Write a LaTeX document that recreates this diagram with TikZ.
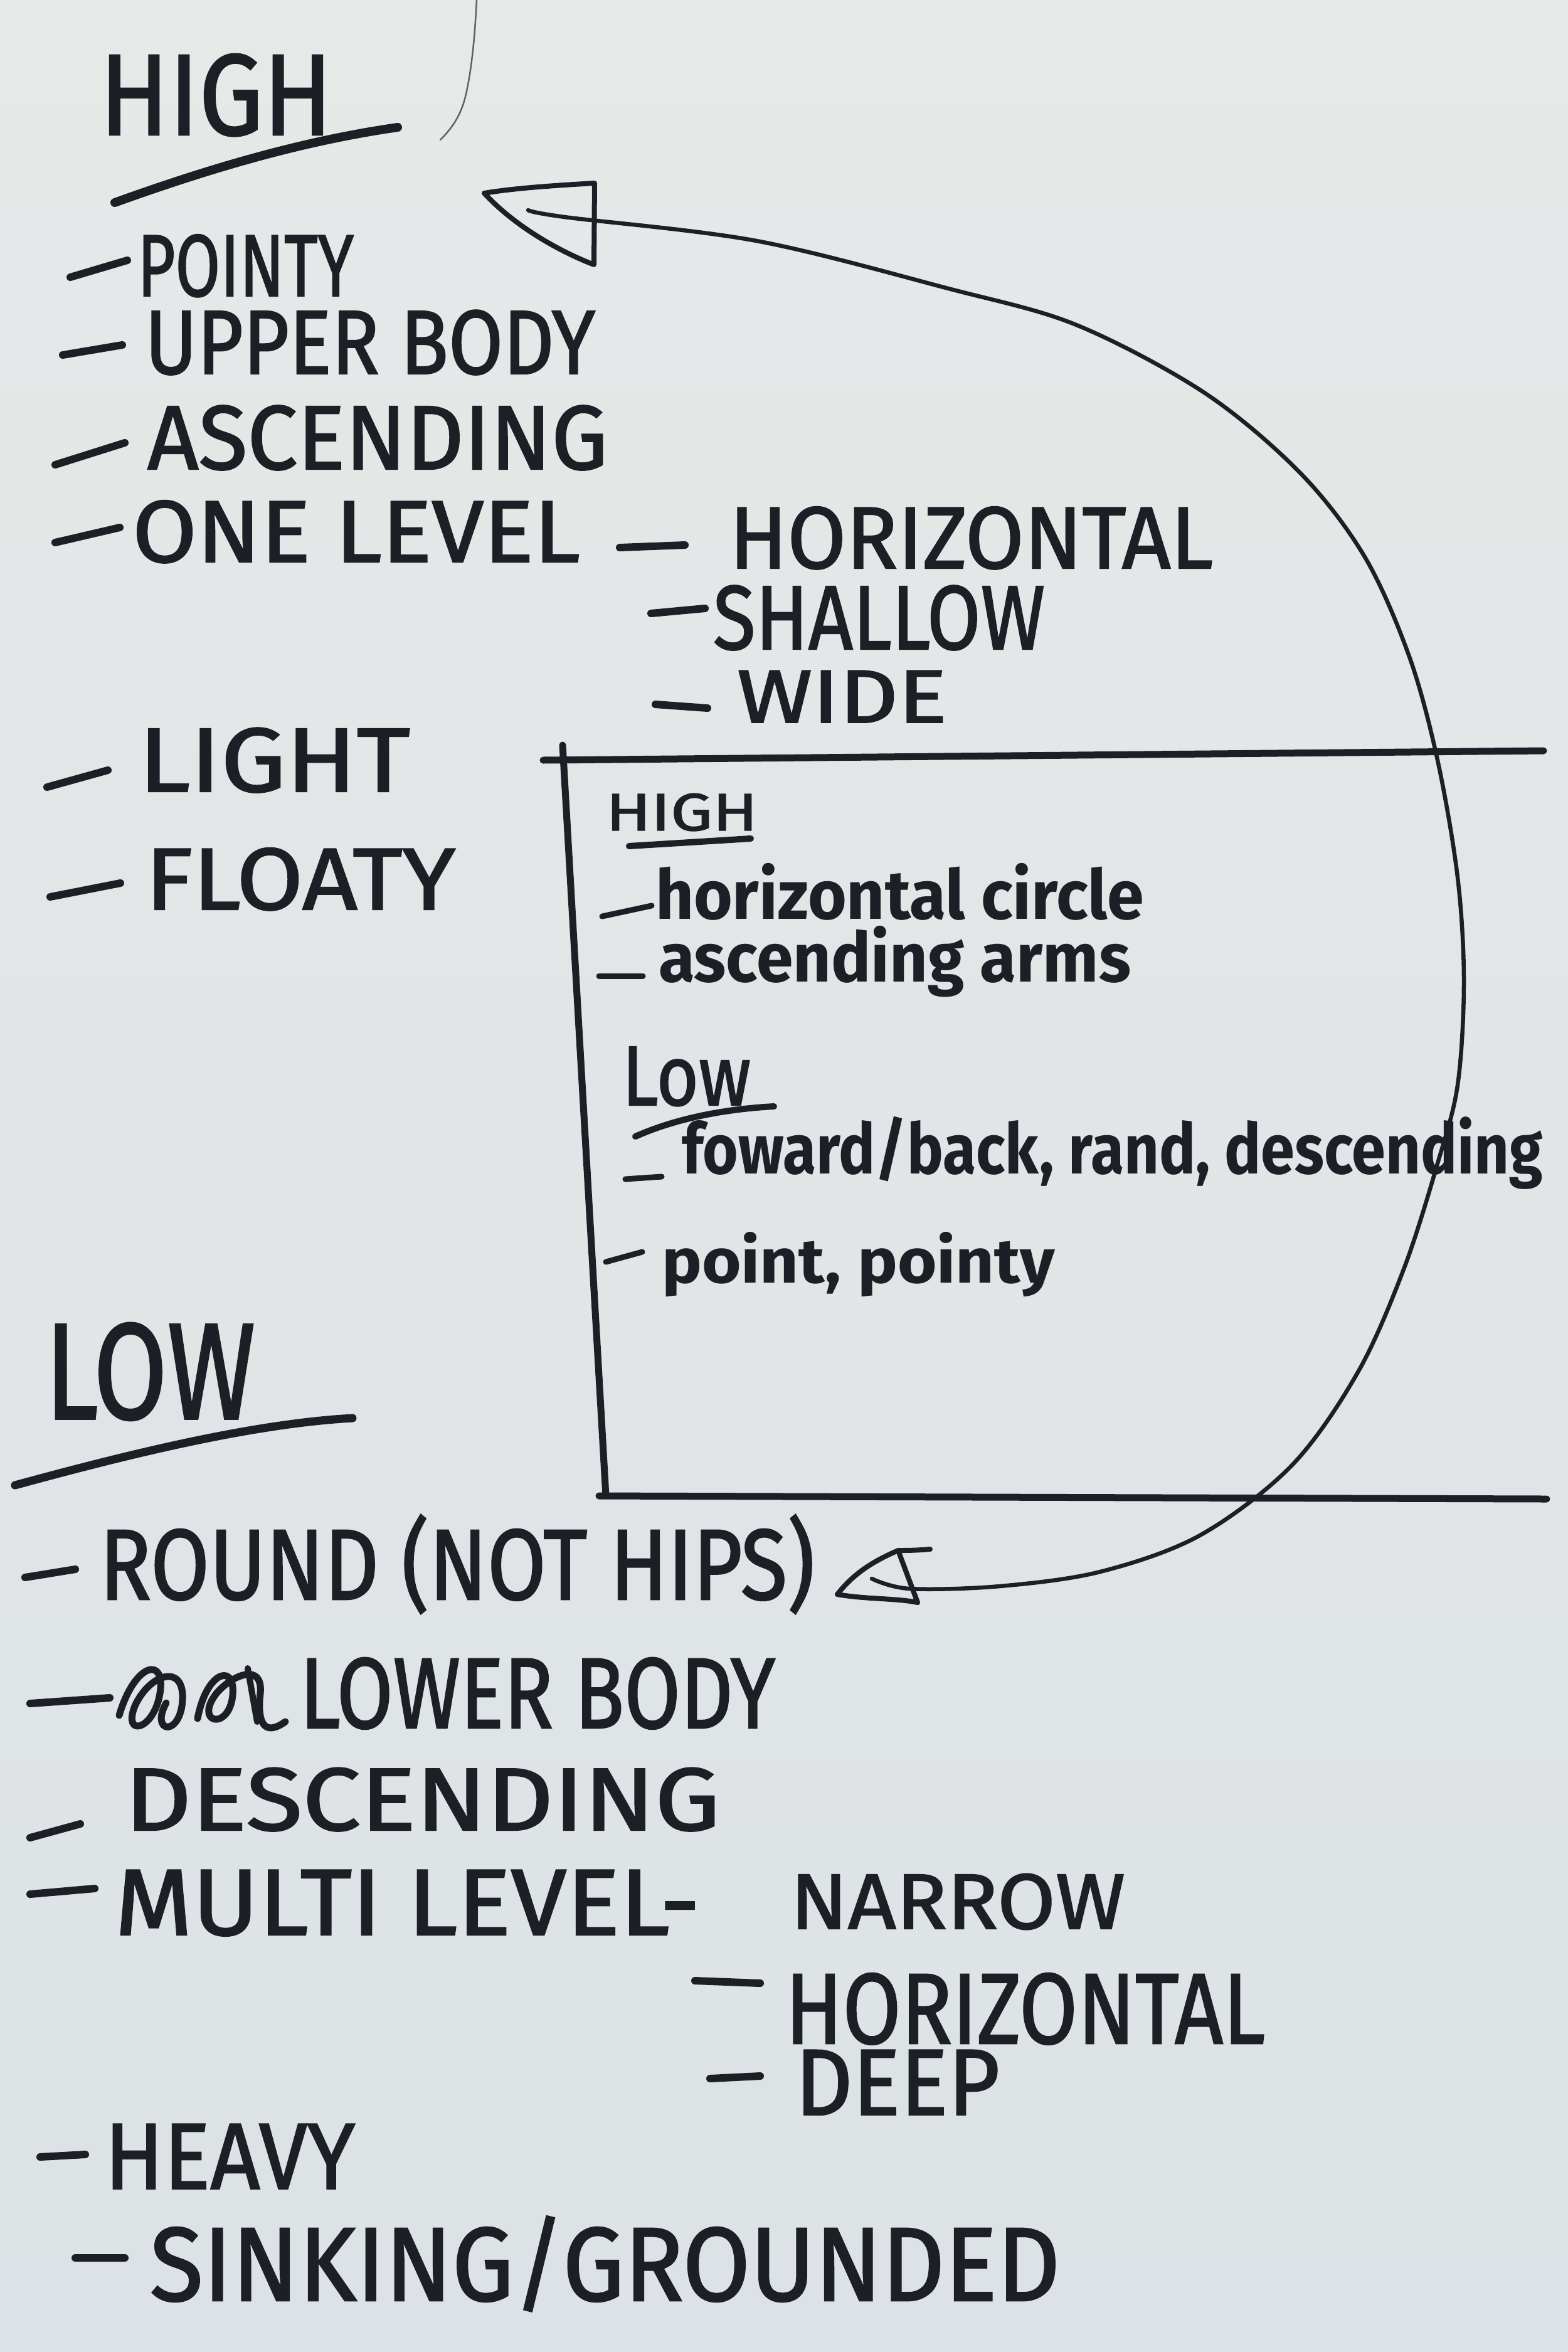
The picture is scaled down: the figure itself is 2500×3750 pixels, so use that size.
\documentclass[tikz,border=0pt]{standalone}
\usepackage{fontspec}
\setmainfont{Fira Sans}
\newfontfamily\marker{Fira Sans}[FakeBold=1.6]
\newcommand\fs[1]{\fontsize{#1}{#1}\selectfont}
\newcommand\fitto[2]{\resizebox{#1pt}{\height}{#2}}
\definecolor{ink}{HTML}{1C1F25}
\definecolor{papertop}{HTML}{E7E8E8}
\definecolor{paperbot}{HTML}{DCE2E5}
\begin{document}
\begin{tikzpicture}[x=1pt,y=-1pt,
  txt/.style={anchor=base west, inner sep=0pt, outer sep=0pt, text=ink},
  stroke/.style={draw=ink, line width=12pt, line cap=round, line join=round},
  boxline/.style={draw=ink, line width=11pt, line cap=round},
  arcline/.style={draw=ink, line width=6.5pt, line cap=round, line join=round},
  headbox/.style={draw=ink, line width=8pt, line cap=round, line join=round},
  thinline/.style={draw=ink!70, line width=2.5pt, line cap=round}]
\useasboundingbox (0,0) rectangle (2500,3750);
\begin{scope}[y=1pt]
  \shade[top color=papertop, bottom color=paperbot] (0,-3750) rectangle (2500,0);
\end{scope}

% faint curve at top
\draw[thinline] (760,0) .. controls (757,60) and (752,110) .. (743,150) .. controls (735,185) and (720,205) .. (702,223);

% ---------- HIGH list ----------
\node[txt, font=\marker\fs{184}] (hightitle) at (159,215) {\fitto{371}{HIGH}};
\draw[stroke, line width=14pt] (183,323) .. controls (330,270) and (480,225) .. (634,203);

\draw[stroke] (112,442) -- (203,415);
\node[txt, font=\marker\fs{140}] (pointy) at (219,472) {\fitto{345}{POINTY}};
\draw[stroke] (100,566) -- (195,550);
\node[txt, font=\marker\fs{145}] (upper) at (231,596) {\fitto{718}{UPPER BODY}};
\draw[stroke] (88,741) -- (199,706);
\node[txt, font=\marker\fs{145}] (asc) at (235,748) {\fitto{734}{ASCENDING}};
\draw[stroke] (88,865) -- (191,841);
\node[txt, font=\marker\fs{140}] (onelevel) at (211,896) {\fitto{714}{ONE LEVEL}};

\draw[stroke] (988,873) -- (1092,869);
\node[txt, font=\marker\fs{140}] (horiz1) at (1163,906) {\fitto{771}{HORIZONTAL}};
\draw[stroke] (1038,978) -- (1124,970);
\node[txt, font=\marker\fs{145}] (shallow) at (1137,1035) {\fitto{529}{SHALLOW}};
\draw[stroke] (1045,1123) -- (1128,1129);
\node[txt, font=\marker\fs{120}] (wide) at (1175,1152) {\fitto{335}{WIDE}};

\draw[stroke] (75,1255) -- (172,1228);
\node[txt, font=\marker\fs{145}] (light) at (221,1262) {\fitto{433}{LIGHT}};
\draw[stroke] (80,1430) -- (192,1408);
\node[txt, font=\marker\fs{140}] (floaty) at (232,1450) {\fitto{494}{FLOATY}};

% ---------- box ----------
\coordinate (bTL) at (866,1212);
\coordinate (bTR) at (2461,1197);
\coordinate (bLT) at (897,1188);
\coordinate (bLB) at (966,2385);
\coordinate (bBL) at (955,2385);
\coordinate (bBR) at (2466,2390);
\draw[boxline] (bTL) -- (bTR);
\draw[boxline] (bLT) -- (bLB);
\draw[boxline] (bBL) -- (bBR);

\node[txt, font=\marker\fs{84}] (bhigh) at (966,1324) {\fitto{242}{HIGH}};
\draw[stroke, line width=10pt] (1003,1349) -- (1197,1337);
\draw[stroke, line width=9pt] (960,1461) -- (1039,1444);
\node[txt, font=\bfseries\fs{110}] (hcircle) at (1045,1465) {\fitto{779}{horizontal circle}};
\draw[stroke, line width=9pt] (955,1556) -- (1025,1556);
\node[txt, font=\bfseries\fs{110}] (aarms) at (1050,1565) {\fitto{753}{ascending arms}};

\node[txt, font=\marker\fs{135}] (blow) at (992,1762) {\fitto{205}{Low}};
\draw[stroke, line width=10pt] (1013,1812) .. controls (1080,1782) and (1160,1768) .. (1234,1764);
\draw[stroke, line width=9pt] (997,1880) -- (1055,1876);
\node[txt, font=\bfseries\fs{112}] (fwd) at (1087,1871) {\fitto{1373}{foward/back, rand, descending}};
\draw[stroke, line width=9pt] (966,2012) -- (1024,1996);
\node[txt, font=\bfseries\fs{100}] (point) at (1055,2045) {\fitto{627}{point, pointy}};

% ---------- LOW list ----------
\node[txt, font=\marker\fs{218}] (lowtitle) at (72,2262) {\fitto{335}{LOW}};
\draw[stroke, line width=13pt] (24,2368) .. controls (200,2320) and (400,2270) .. (562,2261);

\draw[stroke] (40,2515) -- (120,2502);
\node[txt, font=\marker\fs{160}] (round) at (159,2550) {\fitto{1140}{ROUND (NOT HIPS)}};

\draw[stroke] (48,2716) -- (175,2707);
\draw[stroke, line width=11pt] (190,2735) .. controls (215,2650) and (265,2640) .. (255,2700)
   .. controls (245,2760) and (195,2770) .. (215,2720) .. controls (240,2665) and (300,2650) .. (290,2720)
   .. controls (282,2770) and (240,2760) .. (265,2715);
\draw[stroke, line width=11pt] (315,2740) .. controls (330,2660) and (380,2650) .. (370,2710)
   .. controls (360,2760) and (310,2745) .. (345,2700) .. controls (370,2670) and (420,2650) .. (415,2700)
   .. controls (410,2745) and (420,2770) .. (455,2745);
\draw[stroke, line width=10pt] (395,2660) -- (410,2745);
\node[txt, font=\marker\fs{160}] (lower) at (478,2755) {\fitto{758}{LOWER BODY}};

\draw[stroke] (48,2930) -- (128,2908);
\node[txt, font=\marker\fs{142}] (desc) at (199,2918) {\fitto{949}{DESCENDING}};
\draw[stroke] (48,3020) -- (151,3011);
\node[txt, font=\marker\fs{150}] (multi) at (183,3085) {\fitto{933}{MULTI LEVEL-}};
\node[txt, font=\marker\fs{125}] (narrow) at (1260,3075) {\fitto{534}{NARROW}};
\draw[stroke] (1108,3158) -- (1212,3162);
\node[txt, font=\marker\fs{160}] (horiz2) at (1252,3258) {\fitto{765}{HORIZONTAL}};
\draw[stroke] (1132,3314) -- (1212,3310);
\node[txt, font=\marker\fs{150}] (deep) at (1268,3372) {\fitto{326}{DEEP}};
\draw[stroke] (64,3439) -- (136,3435);
\node[txt, font=\marker\fs{150}] (heavy) at (167,3490) {\fitto{399}{HEAVY}};
\draw[stroke] (120,3600) -- (199,3600);
\node[txt, font=\marker\fs{167}] (sink) at (239,3668) {\fitto{1451}{SINKING/GROUNDED}};

% ---------- big curved arrow ----------
\draw[arcline] plot[smooth, tension=0.55] coordinates {
  (842,335) (900,346) (1206,384) (1512,460) (1716,518) (1920,626) (2073,754)
  (2176,888) (2247,1047) (2292,1212) (2324,1399) (2334,1565) (2324,1730)
  (2292,1855) (2239,2021) (2166,2186) (2060,2336) (1913,2448) (1754,2506)
  (1594,2529) (1450,2533) (1390,2517)};
% top open arrowhead
\draw[headbox] (948,292) .. controls (880,296) and (820,300) .. (772,308)
  .. controls (820,360) and (890,400) .. (947,422) -- cycle;
% bottom open arrowhead
\draw[headbox] (1483,2470) .. controls (1460,2472) and (1445,2472) .. (1432,2472);
\draw[headbox] (1432,2472) .. controls (1390,2490) and (1360,2510) .. (1335,2542)
  .. controls (1380,2550) and (1430,2548) .. (1463,2555) -- (1432,2472);
\end{tikzpicture}
\end{document}
